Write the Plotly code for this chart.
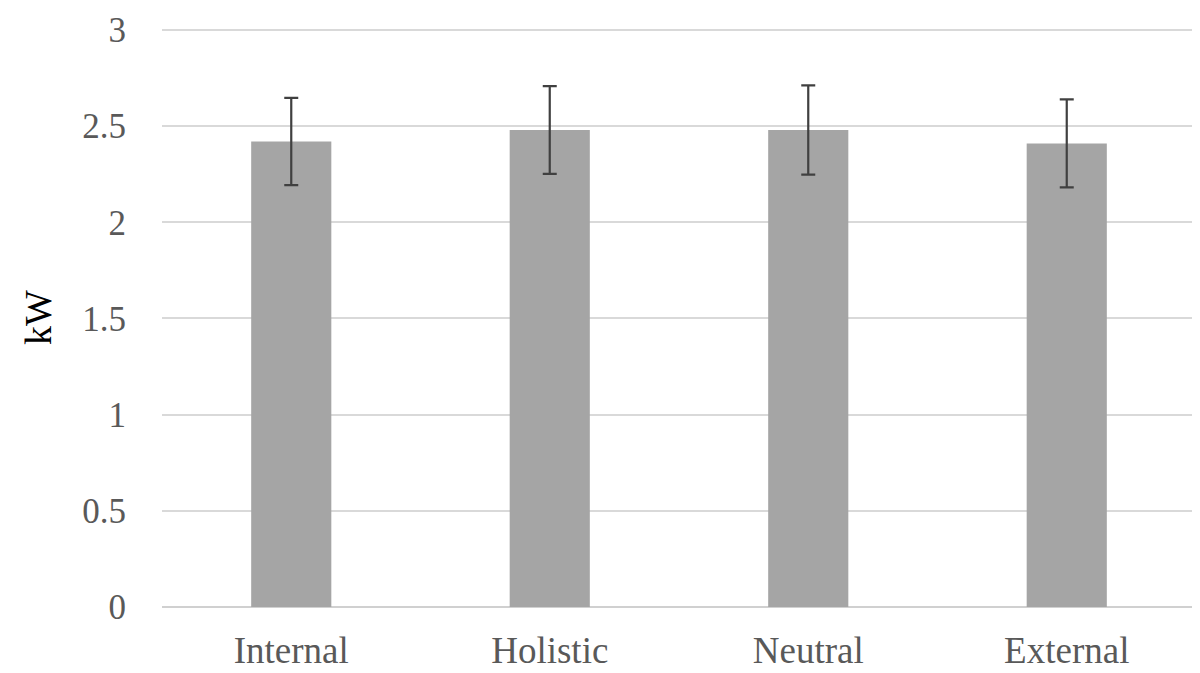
import plotly.graph_objects as go

categories = ["Internal", "Holistic", "Neutral", "External"]
values = [2.42, 2.48, 2.48, 2.41]
errors = [0.227, 0.228, 0.232, 0.229]
y_ticks = [0, 0.5, 1, 1.5, 2, 2.5, 3]
y_tick_labels = ["0", "0.5", "1", "1.5", "2", "2.5", "3"]

fig = go.Figure()
fig.add_trace(go.Bar(
    x=categories, y=values,
    marker=dict(color="#a5a5a5", line=dict(width=0)),
    error_y=dict(type="data", array=errors, visible=True,
                 color="#404040", thickness=2.2, width=7),
    width=0.31,
))

fig.update_layout(
    width=1200, height=673,
    margin=dict(l=154, r=12, t=20, b=74),
    paper_bgcolor="white", plot_bgcolor="white",
    showlegend=False,
    font=dict(family="Liberation Serif", size=35, color="#595959"),
    xaxis=dict(showgrid=False, showline=False, ticks="", automargin=False,
               ticklabelstandoff=18,
               tickfont=dict(family="Liberation Serif", size=37, color="#595959")),
    yaxis=dict(range=[0, 3.01], tickvals=y_ticks, ticktext=y_tick_labels,
               automargin=False,
               showgrid=True, gridcolor="#d9d9d9", gridwidth=2,
               zeroline=True, zerolinecolor="#d0d0d0", zerolinewidth=2,
               showline=False, ticks="", ticklabelstandoff=35,
               tickfont=dict(family="Liberation Serif", size=35, color="#595959"),
               title=dict(text="kW", standoff=18,
                          font=dict(family="Liberation Serif", size=38, color="#000000"))),
)

fig.write_html("out.html")
